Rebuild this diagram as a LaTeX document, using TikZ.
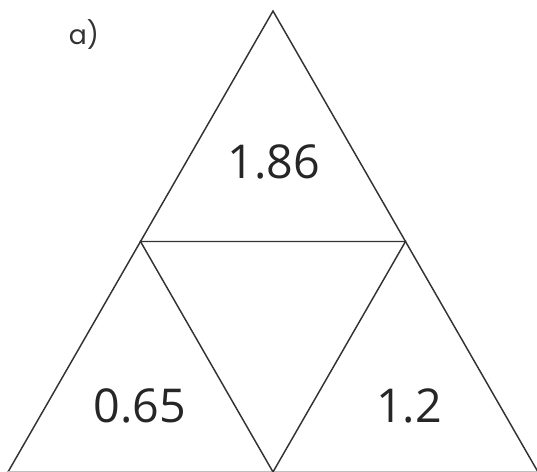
\documentclass[tikz,border=0pt]{standalone}
\usepackage{fontspec}
\setmainfont{Open Sans}
\newfontfamily\labelfont{Poppins}
\usetikzlibrary{calc}

\begin{document}
\begin{tikzpicture}[
    x=0.75pt, y=0.75pt,
    edge/.style={draw=black!80, line width=1.1pt, line join=miter},
    value/.style={font=\fontsize{35}{40}\selectfont, text=black!85},
    tag/.style={font=\labelfont\fontsize{20}{24}\selectfont, text=black!80}
]
\useasboundingbox (0,0) rectangle (537,472);

% Ecken des grossen Dreiecks
\coordinate (apex) at (273,461);
\coordinate (bl) at (8,0);
\coordinate (br) at (538,0);
\coordinate (ml) at ($(apex)!0.5!(bl)$);
\coordinate (mr) at ($(apex)!0.5!(br)$);
\coordinate (mb) at ($(bl)!0.5!(br)$);

% Dreiecke
\draw[edge] (bl) -- (apex) -- (br);
\draw[edge, draw=black!25] (bl) -- (br);
\draw[edge] (ml) -- (mr) -- (mb) -- cycle;

% Zahlen
\node[value] (top) at (274,310) {1.86};
\node[value] (left) at (140,66) {0.65};
\node[value] (right) at (409,66) {1.2};

% Aufgabe
\node[tag] (task) at (84,437) {a)};

\end{tikzpicture}
\end{document}
